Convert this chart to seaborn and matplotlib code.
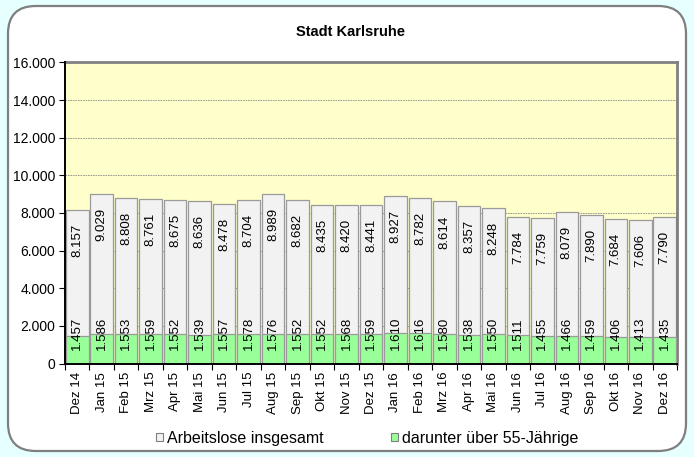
import matplotlib
matplotlib.use("Agg")
import matplotlib.pyplot as plt
import seaborn as sns
import pandas as pd
import numpy as np
from matplotlib.patches import FancyBboxPatch, Patch
from matplotlib.ticker import FuncFormatter, FixedLocator

months = ["Dez 14", "Jan 15", "Feb 15", "Mrz 15", "Apr 15", "Mai 15", "Jun 15",
          "Jul 15", "Aug 15", "Sep 15", "Okt 15", "Nov 15", "Dez 15", "Jan 16",
          "Feb 16", "Mrz 16", "Apr 16", "Mai 16", "Jun 16", "Jul 16", "Aug 16",
          "Sep 16", "Okt 16", "Nov 16", "Dez 16"]
total = [8157, 9029, 8808, 8761, 8675, 8636, 8478, 8704, 8989, 8682, 8435, 8420,
         8441, 8927, 8782, 8614, 8357, 8248, 7784, 7759, 8079, 7890, 7684, 7606, 7790]
over55 = [1457, 1586, 1553, 1559, 1552, 1539, 1557, 1578, 1576, 1552, 1552, 1568,
          1559, 1610, 1616, 1580, 1538, 1550, 1511, 1455, 1466, 1459, 1406, 1413, 1435]

title = "Stadt Karlsruhe"
legend_labels = ["Arbeitslose insgesamt", "darunter über 55-Jährige"]

df = pd.DataFrame({"Monat": months, "gesamt": total, "ue55": over55})

sns.set_style("white")
plt.rcParams["font.family"] = ["Liberation Sans", "DejaVu Sans"]
plt.rcParams["text.color"] = "black"
plt.rcParams["xtick.color"] = "black"
plt.rcParams["ytick.color"] = "black"

W, H = 694, 457
fig = plt.figure(figsize=(W / 100, H / 100), dpi=100)
fig.patch.set_facecolor("#E6FFFF")

# white rounded panel behind the chart
panel = FancyBboxPatch((8 / W, 6 / H), (686 - 8) / W, (451 - 6) / H,
                       boxstyle="round,pad=0,rounding_size=0.04",
                       transform=fig.transFigure, facecolor="white",
                       edgecolor="#7F7F7F", linewidth=1.6, zorder=-5,
                       mutation_aspect=W / H)
fig.patches.append(panel)

left, right, top, bottom = 65, 677, 62.5, 363.5
ax = fig.add_axes([left / W, 1 - bottom / H, (right - left) / W, (bottom - top) / H])
ax.set_facecolor("#FFFFCC")

bar_w = 0.92
sns.barplot(data=df, x="Monat", y="gesamt", color="#F2F2F2", edgecolor="#9A9A9A",
            linewidth=0.9, width=bar_w, saturation=1, ax=ax, zorder=2)
sns.barplot(data=df, x="Monat", y="ue55", color="#99FF99", edgecolor="#9A9A9A",
            linewidth=0.9, width=bar_w, saturation=1, ax=ax, zorder=3)

fmt = lambda v: f"{v:,.0f}".replace(",", ".")

for i, (t, u) in enumerate(zip(total, over55)):
    ax.annotate(fmt(t), (i, t), xytext=(0, -10), textcoords="offset points",
                rotation=90, ha="center", va="top", fontsize=9.5, zorder=5)
    ax.annotate(fmt(u), (i, 0), xytext=(0, 10), textcoords="offset points",
                rotation=90, ha="center", va="bottom", fontsize=9.5, zorder=5)

ax.set_xlim(-0.5, len(months) - 0.5)
ax.set_ylim(0, 16000)
ax.yaxis.set_major_locator(FixedLocator(np.arange(0, 16001, 2000)))
ax.yaxis.set_major_formatter(FuncFormatter(lambda v, p: fmt(v)))
ax.grid(axis="y", color="#8C8C8C", linestyle=(0, (2, 1)), linewidth=0.6, zorder=1)
ax.set_axisbelow(True)

ax.set_xticks(range(len(months)))
ax.set_xticklabels(months, rotation=90, fontsize=9.5)
ax.tick_params(axis="x", length=0, pad=6)
ax.set_xticks(np.arange(-0.5, len(months), 1), minor=True)
ax.tick_params(axis="x", which="minor", length=4, width=0.8, color="black", direction="out")
ax.tick_params(axis="y", length=4, width=0.8, color="black", direction="out",
               labelsize=10, pad=3)
ax.yaxis.set_ticks_position("left")
ax.xaxis.set_ticks_position("bottom")

ax.set_xlabel("")
ax.set_ylabel("")

for side in ["top", "right"]:
    ax.spines[side].set_color("#808080")
    ax.spines[side].set_linewidth(2)
for side in ["left", "bottom"]:
    ax.spines[side].set_color("black")
    ax.spines[side].set_linewidth(1.4)
    ax.spines[side].set_zorder(6)

fig.text(350 / W, 1 - 32 / H, title, ha="center", va="center",
         fontsize=10.5, fontweight="bold")

handles = [Patch(facecolor="#F2F2F2", edgecolor="#7F7F7F", linewidth=0.8),
           Patch(facecolor="#99FF99", edgecolor="#7F7F7F", linewidth=0.8)]
fig.legend(handles, legend_labels, loc="center", bbox_to_anchor=(367 / W, 1 - 438 / H),
           ncol=2, frameon=False, handlelength=0.45, handleheight=0.45,
           handletextpad=0.25, columnspacing=4.2, borderpad=0, fontsize=11.5)

fig.savefig("out.png", dpi=100, facecolor=fig.get_facecolor())
